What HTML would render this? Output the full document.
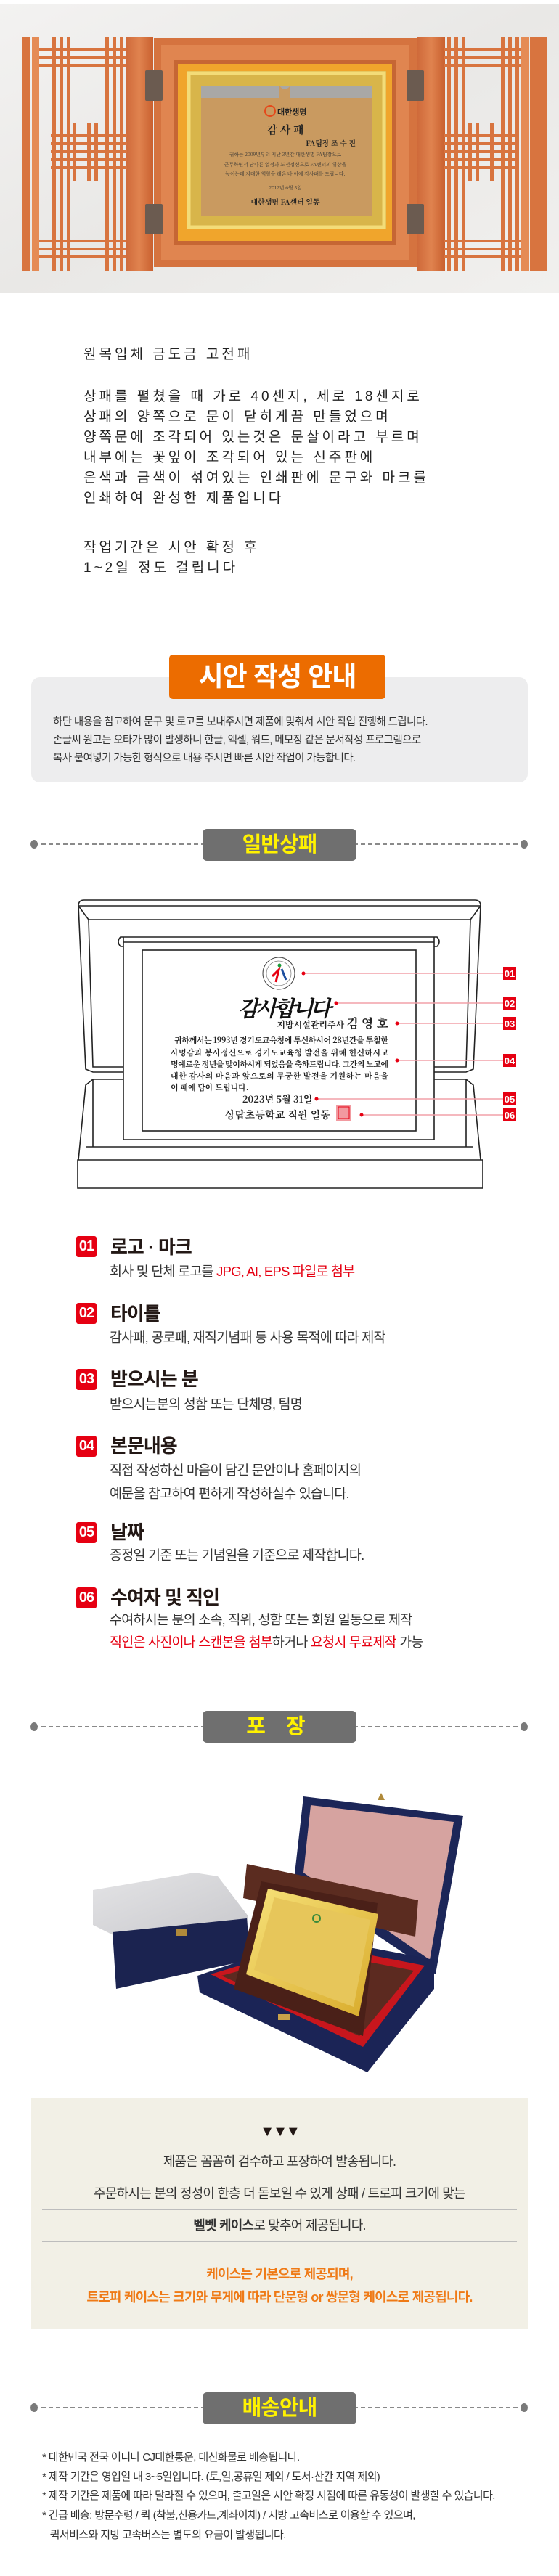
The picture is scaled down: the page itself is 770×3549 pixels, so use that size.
<!DOCTYPE html>
<html><head><meta charset="utf-8">
<style>
*{margin:0;padding:0;box-sizing:border-box}
body{width:770px;height:3549px;position:relative;background:#fff;font-family:"Liberation Sans","Noto Sans CJK KR",sans-serif;overflow:hidden}
.a{position:absolute;white-space:nowrap}
.hw{left:115px;font-size:19px;letter-spacing:4px;color:#222;line-height:28px;font-family:"Liberation Sans","WenQuanYi Zen Hei",sans-serif}
.hd{position:absolute;left:279px;width:212px;height:44px;background:#6f6f6f;border-radius:6px;color:#fff200;font-weight:bold;font-size:29px;text-align:center;line-height:44px;letter-spacing:-1px}
.dl{position:absolute;left:47px;width:676px;height:0;border-top:2px dashed #8a8a8a}
.dot{position:absolute;width:10px;height:12px;border-radius:50%;background:#7a7a7a}
.nb{position:absolute;left:105px;width:28px;height:29px;background:#e60012;border-radius:3px;color:#fff;font-weight:bold;font-size:20px;line-height:29px;text-align:center;letter-spacing:-1px}
.tt{position:absolute;left:152px;font-size:26px;font-weight:bold;color:#231815;line-height:30px;letter-spacing:-1px}
.ds{position:absolute;left:151px;font-size:18.5px;color:#333;line-height:26px;letter-spacing:-0.8px}
.r{color:#e60012}
.bl{position:absolute;left:0;width:770px;text-align:center;font-size:18px;color:#333;line-height:24px;letter-spacing:-0.8px}
.sep{position:absolute;left:58px;width:654px;height:1px;background:#bdbdbd}
.dv{position:absolute;left:58px;font-size:15px;color:#333;line-height:20px;letter-spacing:-0.6px}
</style></head><body>

<!-- top photo -->
<svg class="a" style="left:0;top:0" width="770" height="410" viewBox="0 0 770 410">
<defs>
<linearGradient id="bg" x1="0" y1="0" x2="1" y2="1"><stop offset="0" stop-color="#f3f2f1"/><stop offset="0.5" stop-color="#e9e8e6"/><stop offset="1" stop-color="#f1f0ee"/></linearGradient>
<linearGradient id="wd" x1="0" y1="0" x2="1" y2="0"><stop offset="0" stop-color="#cf6a3a"/><stop offset="0.5" stop-color="#e0834f"/><stop offset="1" stop-color="#c9602f"/></linearGradient>
</defs>
<rect x="0" y="5" width="770" height="398" fill="url(#bg)"/>
<!-- left door -->
<g fill="#d8743f">
<rect x="30" y="51" width="12" height="323"/>
<rect x="44" y="51" width="10" height="323" fill="#e58b55"/>
<rect x="72" y="51" width="5" height="323"/><rect x="82" y="51" width="5" height="323"/><rect x="92" y="51" width="5" height="323"/>
<rect x="145" y="51" width="5" height="323"/><rect x="155" y="51" width="5" height="323"/><rect x="165" y="51" width="5" height="323"/>
<rect x="173" y="51" width="38" height="323" fill="url(#wd)"/>
<rect x="54" y="66" width="120" height="4"/><rect x="54" y="77" width="120" height="4"/><rect x="54" y="88" width="120" height="4"/>
<rect x="54" y="330" width="120" height="4"/><rect x="54" y="341" width="120" height="4"/><rect x="54" y="352" width="120" height="4"/>
<rect x="70" y="185" width="105" height="4"/><rect x="70" y="196" width="105" height="4"/><rect x="70" y="207" width="105" height="4"/><rect x="70" y="218" width="105" height="4"/><rect x="70" y="229" width="105" height="4"/>
<rect x="100" y="170" width="5" height="80"/><rect x="120" y="170" width="5" height="80"/><rect x="130" y="170" width="5" height="80"/>
</g>
<!-- right door -->
<g fill="#d8743f">
<rect x="575" y="51" width="38" height="323" fill="url(#wd)"/>
<rect x="616" y="51" width="5" height="323"/><rect x="626" y="51" width="5" height="323"/><rect x="636" y="51" width="5" height="323"/>
<rect x="690" y="51" width="5" height="323"/><rect x="700" y="51" width="5" height="323"/><rect x="710" y="51" width="5" height="323"/>
<rect x="718" y="51" width="10" height="323" fill="#e58b55"/>
<rect x="730" y="51" width="24" height="323"/>
<rect x="612" y="66" width="106" height="4"/><rect x="612" y="77" width="106" height="4"/><rect x="612" y="88" width="106" height="4"/>
<rect x="612" y="330" width="106" height="4"/><rect x="612" y="341" width="106" height="4"/><rect x="612" y="352" width="106" height="4"/>
<rect x="612" y="185" width="100" height="4"/><rect x="612" y="196" width="100" height="4"/><rect x="612" y="207" width="100" height="4"/><rect x="612" y="218" width="100" height="4"/><rect x="612" y="229" width="100" height="4"/>
<rect x="645" y="170" width="5" height="80"/><rect x="655" y="170" width="5" height="80"/><rect x="675" y="170" width="5" height="80"/>
</g>
<!-- center frame -->
<rect x="212" y="53" width="362" height="315" fill="#d5733f"/>
<rect x="222" y="62" width="342" height="296" fill="#e08550"/>
<rect x="240" y="82" width="306" height="256" fill="#c66634"/>
<rect x="245" y="88" width="295" height="244" fill="#f0a52c"/>
<rect x="257" y="98" width="275" height="218" fill="#d8b54a"/>
<rect x="260" y="101" width="269" height="212" fill="none" stroke="#f3dc78" stroke-width="5"/>
<rect x="277" y="118" width="235" height="179" fill="#c99a60"/>
<rect x="277" y="118" width="235" height="17" fill="#a9a8a6"/>
<path d="M385 118 Q392 128 400 118 L400 137 L385 137Z" fill="#c99a60"/>
<g fill="#6b5b50"><rect x="200" y="97" width="24" height="42" rx="2"/><rect x="200" y="281" width="24" height="42" rx="2"/><rect x="560" y="97" width="24" height="42" rx="2"/><rect x="560" y="281" width="24" height="42" rx="2"/></g>
<circle cx="372" cy="153" r="7" fill="none" stroke="#e4491b" stroke-width="2"/>
<text x="382" y="158" font-size="11" font-weight="bold" fill="#222" font-family="Noto Sans CJK KR">대한생명</text>
<text x="393" y="184" font-size="15" font-weight="bold" fill="#222" text-anchor="middle" font-family="Noto Serif CJK SC,serif">감  사  패</text>
<text x="490" y="201" font-size="10" font-weight="bold" fill="#222" text-anchor="end" font-family="Noto Serif CJK SC,serif">FA팀장 조 수 진</text>
<g font-size="6.8" fill="#333" text-anchor="middle" font-family="Noto Serif CJK SC,serif">
<text x="393" y="215">귀하는 2009년부터 지난 3년간 대한생명 FA팀장으로</text>
<text x="393" y="229">근무하면서 남다른 열정과 도전정신으로 FA센터의 위상을</text>
<text x="393" y="242">높이는데 지대한 역할을 해온 바 이에 감사패를 드립니다.</text>
<text x="393" y="261">2012년 6월 5일</text></g>
<text x="393" y="282" font-size="10" font-weight="bold" fill="#222" text-anchor="middle" font-family="Noto Serif CJK SC,serif">대한생명 FA센터 일동</text>
</svg>

<!-- handwritten -->
<div class="a hw" style="top:475px">원목입체 금도금 고전패</div>
<div class="a hw" style="top:533px">상패를 펼쳤을 때 가로 40센지, 세로 18센지로<br>상패의 양쪽으로 문이 닫히게끔 만들었으며<br>양쪽문에 조각되어 있는것은 문살이라고 부르며<br>내부에는 꽃잎이 조각되어 있는 신주판에<br>은색과 금색이 섞여있는 인쇄판에 문구와 마크를<br>인쇄하여 완성한 제품입니다</div>
<div class="a hw" style="top:741px">작업기간은 시안 확정 후<br>1~2일 정도 걸립니다</div>

<!-- 시안 작성 안내 -->
<div class="a" style="left:43px;top:933px;width:684px;height:145px;background:#ededee;border-radius:12px"></div>
<div class="a" style="left:233px;top:902px;width:298px;height:61px;background:#ec6c00;border-radius:5px;color:#fff;font-weight:bold;font-size:37px;text-align:center;line-height:61px;letter-spacing:-1px">시안 작성 안내</div>
<div class="a" style="left:73px;top:983px;font-size:14.5px;color:#333;line-height:25px;letter-spacing:-0.6px">하단 내용을 참고하여 문구 및 로고를 보내주시면 제품에 맞춰서 시안 작업 진행해 드립니다.<br>손글씨 원고는 오타가 많이 발생하니 한글, 엑셀, 워드, 메모장 같은 문서작성 프로그램으로<br>복사 붙여넣기 가능한 형식으로 내용 주시면 빠른 시안 작업이 가능합니다.</div>

<!-- 일반상패 header -->
<div class="dl" style="top:1162px"></div><div class="dot" style="left:42px;top:1157px"></div><div class="dot" style="left:717px;top:1157px"></div>
<div class="hd" style="top:1142px">일반상패</div>

<!-- drawing -->
<svg class="a" style="left:0;top:1230px" width="770" height="420" viewBox="0 1230 770 420">
<g fill="none" stroke="#222" stroke-width="1.6">
<path d="M108 1248 Q108 1240 116 1240 L654 1240 Q662 1240 662 1248"/>
<path d="M108 1248 L662 1248"/>
<path d="M108 1248 L118 1473 L128 1477 L170 1477"/>
<path d="M122 1267 L648 1267"/>
<path d="M108 1248 L122 1267 L128 1470 L170 1470"/>
<path d="M662 1248 L652 1473 L642 1477 L598 1477"/>
<path d="M662 1248 L648 1267 L642 1470 L598 1470"/>
<path d="M128 1487 L170 1487 M598 1487 L642 1487"/>
<path d="M128 1487 L118 1495 L108 1598 M642 1487 L652 1495 L662 1598"/>
<path d="M128 1487 L128 1580 M642 1487 L642 1580"/>
<path d="M118 1580 L652 1580"/>
<path d="M107 1598 L665 1598 L665 1637 L107 1637 Z"/>
<path d="M170 1298 L598 1298"/>
<path d="M170 1291 L598 1291 M170 1291 L170 1570 L598 1570 L598 1291"/>
<path d="M170 1291 L166 1291 Q160 1297 166 1304 L170 1304 M598 1291 L602 1291 Q608 1297 602 1304 L598 1304"/>
<rect x="196" y="1309" width="377" height="249"/>
</g>
<circle cx="384" cy="1341" r="22" fill="#fff" stroke="#444" stroke-width="1"/>
<circle cx="384" cy="1341" r="17" fill="none" stroke="#777" stroke-width="0.7"/>
<path d="M375 1345 L384 1336 L380 1353" stroke="#e60012" stroke-width="3" fill="none"/>
<path d="M388 1335 L394 1350" stroke="#1d4fa0" stroke-width="3" fill="none"/>
<circle cx="385" cy="1330" r="2.5" fill="#1a9a3a"/>
<text x="390" y="1400" font-size="30" font-style="italic" font-weight="bold" fill="#111" text-anchor="middle" font-family="Noto Serif CJK SC,serif" letter-spacing="-4">감사합니다</text>
<text x="535" y="1416" font-size="12" font-weight="bold" fill="#222" text-anchor="end" font-family="Noto Serif CJK SC,serif">지방시설관리주사 <tspan font-size="17">김 영 호</tspan></text>
<g font-size="11" font-weight="bold" fill="#222" font-family="Noto Serif CJK SC,serif" textLength="300">
<text x="240" y="1437" textLength="295">귀하께서는 1993년 경기도교육청에 투신하시어 28년간을 투철한</text>
<text x="235" y="1454" textLength="300">사명감과 봉사정신으로 경기도교육청 발전을 위해 헌신하시고</text>
<text x="235" y="1470" textLength="300">명예로운 정년을 맞이하시게 되었음을 축하드립니다. 그간의 노고에</text>
<text x="235" y="1486" textLength="300">대한 감사의 마음과 앞으로의 무궁한 발전을 기원하는 마음을</text>
<text x="235" y="1502">이 패에 담아 드립니다.</text>
</g>
<text x="382" y="1519" font-size="13" font-weight="bold" fill="#222" text-anchor="middle" font-family="Noto Serif CJK SC,serif">2023년 5월 31일</text>
<text x="310" y="1541" font-size="14" font-weight="bold" fill="#222" font-family="Noto Serif CJK SC,serif" textLength="145">상탑초등학교 직원 일동</text>
<rect x="463" y="1522" width="21" height="22" fill="#f29aa0"/>
<rect x="466" y="1525" width="15" height="16" fill="none" stroke="#e60012" stroke-width="1"/>
<g stroke="#f2a0a8" stroke-width="1.5">
<line x1="418" y1="1341" x2="693" y2="1341"/><line x1="463" y1="1382" x2="693" y2="1382"/>
<line x1="547" y1="1410" x2="693" y2="1410"/><line x1="547" y1="1461" x2="693" y2="1461"/>
<line x1="436" y1="1514" x2="693" y2="1514"/><line x1="498" y1="1536" x2="693" y2="1536"/>
</g>
<g fill="#e60012"><circle cx="418" cy="1341" r="2.5"/><circle cx="463" cy="1382" r="2.5"/><circle cx="547" cy="1410" r="2.5"/><circle cx="547" cy="1461" r="2.5"/><circle cx="436" cy="1514" r="2.5"/><circle cx="498" cy="1536" r="2.5"/>
<rect x="693" y="1332" width="18" height="18"/><rect x="693" y="1373" width="18" height="18"/><rect x="693" y="1401" width="18" height="18"/><rect x="693" y="1452" width="18" height="18"/><rect x="693" y="1505" width="18" height="18"/><rect x="693" y="1527" width="18" height="18"/></g>
<g fill="#fff" font-size="13" font-weight="bold" text-anchor="middle" font-family="Liberation Sans,sans-serif">
<text x="702" y="1346">01</text><text x="702" y="1387">02</text><text x="702" y="1415">03</text><text x="702" y="1466">04</text><text x="702" y="1519">05</text><text x="702" y="1541">06</text></g>
</svg>

<!-- items -->
<div class="nb" style="top:1703px">01</div><div class="tt" style="top:1703px">로고 · 마크</div>
<div class="ds" style="top:1739px">회사 및 단체 로고를 <span class="r">JPG, AI, EPS 파일로 첨부</span></div>
<div class="nb" style="top:1795px">02</div><div class="tt" style="top:1795px">타이틀</div>
<div class="ds" style="top:1830px">감사패, 공로패, 재직기념패 등 사용 목적에 따라 제작</div>
<div class="nb" style="top:1886px">03</div><div class="tt" style="top:1885px">받으시는 분</div>
<div class="ds" style="top:1922px">받으시는분의 성함 또는 단체명, 팀명</div>
<div class="nb" style="top:1978px">04</div><div class="tt" style="top:1977px">본문내용</div>
<div class="ds" style="top:2010px;line-height:32px">직접 작성하신 마음이 담긴 문안이나 홈페이지의<br>예문을 참고하여 편하게 작성하실수 있습니다.</div>
<div class="nb" style="top:2097px">05</div><div class="tt" style="top:2096px">날짜</div>
<div class="ds" style="top:2130px">증정일 기준 또는 기념일을 기준으로 제작합니다.</div>
<div class="nb" style="top:2187px">06</div><div class="tt" style="top:2186px">수여자 및 직인</div>
<div class="ds" style="top:2219px">수여하시는 분의 소속, 직위, 성함 또는 회원 일동으로 제작</div>
<div class="ds" style="top:2250px"><span class="r">직인은 사진이나 스캔본을 첨부</span>하거나 <span class="r">요청시 무료제작</span> 가능</div>

<!-- 포장 header -->
<div class="dl" style="top:2378px"></div><div class="dot" style="left:42px;top:2373px"></div><div class="dot" style="left:717px;top:2373px"></div>
<div class="hd" style="top:2357px;letter-spacing:10px">포 장</div>

<!-- packaging photo -->
<svg class="a" style="left:0;top:2460px" width="770" height="400" viewBox="0 2460 770 400">
<defs><linearGradient id="sv" x1="0" y1="0" x2="1" y2="1"><stop offset="0" stop-color="#e4e4e6"/><stop offset="1" stop-color="#c8c8cc"/></linearGradient>
<linearGradient id="gd" x1="0" y1="0" x2="1" y2="1"><stop offset="0" stop-color="#f7e27a"/><stop offset="1" stop-color="#d8aa2a"/></linearGradient></defs>
<!-- silver box -->
<path d="M128 2604 L268 2580 L300 2585 L342 2640 L342 2660 L160 2668 L128 2652Z" fill="url(#sv)"/>
<path d="M155 2662 L340 2643 L345 2700 L160 2740 Z" fill="#1b2350"/>
<rect x="243" y="2657" width="14" height="10" fill="#b08a3a"/>
<!-- lid -->
<path d="M418 2475 L638 2502 L600 2720 L405 2590 Z" fill="#1c2658"/>
<path d="M428 2487 L625 2510 L592 2700 L418 2580 Z" fill="#d6a3a0"/>
<path d="M520 2480 l5 -10 l5 10Z" fill="#b08a3a"/>
<!-- base box -->
<path d="M272 2722 L430 2668 L598 2700 L598 2740 L506 2855 L275 2745 Z" fill="#1b2456"/>
<path d="M290 2720 L430 2678 L585 2708 L500 2820 Z" fill="#c8161d"/>
<path d="M305 2722 L430 2688 L570 2715 L495 2805 Z" fill="#5c2a20"/>
<rect x="383" y="2775" width="16" height="8" fill="#c9a34a"/>
<!-- wood plaque -->
<path d="M340 2568 L576 2618 L572 2668 L335 2615 Z" fill="#5b2c20"/>
<path d="M360 2592 L520 2622 L500 2805 L322 2740 Z" fill="#4a2018"/>
<path d="M369 2602 L521 2637 L494 2778 L339 2720 Z" fill="url(#gd)"/>
<path d="M378 2614 L510 2645 L487 2765 L350 2714 Z" fill="#e7c65a"/>
<circle cx="436" cy="2643" r="5" fill="none" stroke="#3a8a3a" stroke-width="2"/>
</svg>

<!-- beige panel -->
<div class="a" style="left:43px;top:2891px;width:684px;height:318px;background:#f2f0e6"></div>
<div class="bl" style="top:2925px;font-size:20px;color:#231815;letter-spacing:-2px">▼▼▼</div>
<div class="bl" style="top:2966px">제품은 꼼꼼히 검수하고 포장하여 발송됩니다.</div>
<div class="sep" style="top:3000px"></div>
<div class="bl" style="top:3010px">주문하시는 분의 정성이 한층 더 돋보일 수 있게 상패 / 트로피 크기에 맞는</div>
<div class="sep" style="top:3044px"></div>
<div class="bl" style="top:3054px"><b>벨벳 케이스</b>로 맞추어 제공됩니다.</div>
<div class="sep" style="top:3088px"></div>
<div class="bl" style="top:3121px;color:#ef7a16;font-weight:bold">케이스는 기본으로 제공되며,</div>
<div class="bl" style="top:3153px;color:#ef7a16;font-weight:bold">트로피 케이스는 크기와 무게에 따라 단문형 or 쌍문형 케이스로 제공됩니다.</div>

<!-- 배송안내 -->
<div class="dl" style="top:3316px"></div><div class="dot" style="left:42px;top:3311px"></div><div class="dot" style="left:717px;top:3311px"></div>
<div class="hd" style="top:3296px">배송안내</div>
<div class="dv" style="top:3376px">* 대한민국 전국 어디나 CJ대한통운, 대신화물로 배송됩니다.</div>
<div class="dv" style="top:3403px">* 제작 기간은 영업일 내 3~5일입니다. (토,일,공휴일 제외 / 도서·산간 지역 제외)</div>
<div class="dv" style="top:3429px">* 제작 기간은 제품에 따라 달라질 수 있으며, 출고일은 시안 확정 시점에 따른 유동성이 발생할 수 있습니다.</div>
<div class="dv" style="top:3456px">* 긴급 배송: 방문수령 / 퀵 (착불,신용카드,계좌이체) / 지방 고속버스로 이용할 수 있으며,</div>
<div class="dv" style="top:3483px">&nbsp;&nbsp;&nbsp;퀵서비스와 지방 고속버스는 별도의 요금이 발생됩니다.</div>
</body></html>
